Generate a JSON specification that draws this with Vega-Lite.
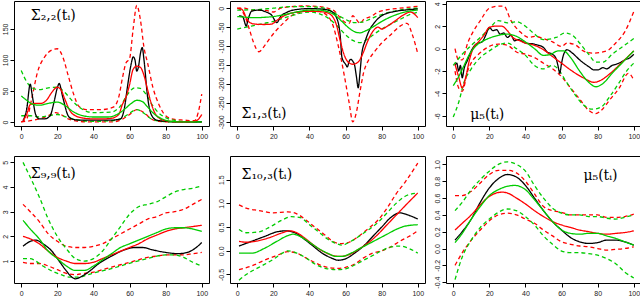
{
  "$schema": "https://vega.github.io/schema/vega-lite/v6.json",
  "padding": {"left": 0, "top": 0, "right": 0, "bottom": 0},
  "spacing": 15,
  "config": {
    "view": {"stroke": "#000", "strokeWidth": 1},
    "axis": {"grid": false, "domain": false, "ticks": true, "tickSize": 4, "tickColor": "#000", "tickWidth": 1, "labelFontSize": 7, "labelFont": "Liberation Sans", "labelColor": "#222", "labelPadding": 2, "labelOverlap": false, "labelFlush": false, "labelBound": false},
    "axisY": {"labelAngle": -90, "labelAlign": "center", "labelBaseline": "bottom"},
    "text": {"font": "DejaVu Serif", "fontSize": 14, "color": "#000", "baseline": "middle", "align": "left"}
  },
  "datasets": {
    "d1": [
      {"s":"ru","t":0,"v":0},{"s":"ru","t":3,"v":5},{"s":"ru","t":6,"v":40},{"s":"ru","t":9,"v":80},{"s":"ru","t":13,"v":105},{"s":"ru","t":17,"v":116},{"s":"ru","t":20,"v":118},{"s":"ru","t":23,"v":105},{"s":"ru","t":26,"v":75},{"s":"ru","t":29,"v":45},{"s":"ru","t":32,"v":25},{"s":"ru","t":36,"v":20},{"s":"ru","t":45,"v":20},{"s":"ru","t":51,"v":24},{"s":"ru","t":54,"v":40},{"s":"ru","t":56,"v":70},{"s":"ru","t":58,"v":95},{"s":"ru","t":60,"v":102},{"s":"ru","t":62,"v":150},{"s":"ru","t":64,"v":188},{"s":"ru","t":66,"v":165},{"s":"ru","t":68,"v":120},{"s":"ru","t":70,"v":95},{"s":"ru","t":73,"v":55},{"s":"ru","t":76,"v":30},{"s":"ru","t":80,"v":10},{"s":"ru","t":85,"v":4},{"s":"ru","t":90,"v":3},{"s":"ru","t":96,"v":2},{"s":"ru","t":98,"v":15},{"s":"ru","t":100,"v":45},
      {"s":"rl","t":0,"v":0},{"s":"rl","t":5,"v":2},{"s":"rl","t":10,"v":5},{"s":"rl","t":15,"v":10},{"s":"rl","t":19,"v":15},{"s":"rl","t":22,"v":12},{"s":"rl","t":26,"v":5},{"s":"rl","t":32,"v":1},{"s":"rl","t":40,"v":0},{"s":"rl","t":50,"v":0},{"s":"rl","t":55,"v":3},{"s":"rl","t":60,"v":12},{"s":"rl","t":64,"v":20},{"s":"rl","t":68,"v":15},{"s":"rl","t":72,"v":5},{"s":"rl","t":76,"v":1},{"s":"rl","t":85,"v":0},{"s":"rl","t":100,"v":0},
      {"s":"gu","t":0,"v":83},{"s":"gu","t":3,"v":65},{"s":"gu","t":6,"v":55},{"s":"gu","t":10,"v":52},{"s":"gu","t":15,"v":55},{"s":"gu","t":20,"v":56},{"s":"gu","t":24,"v":48},{"s":"gu","t":28,"v":35},{"s":"gu","t":33,"v":22},{"s":"gu","t":40,"v":15},{"s":"gu","t":50,"v":16},{"s":"gu","t":55,"v":26},{"s":"gu","t":59,"v":45},{"s":"gu","t":63,"v":55},{"s":"gu","t":66,"v":54},{"s":"gu","t":69,"v":45},{"s":"gu","t":72,"v":30},{"s":"gu","t":76,"v":15},{"s":"gu","t":80,"v":7},{"s":"gu","t":86,"v":2},{"s":"gu","t":92,"v":0},{"s":"gu","t":100,"v":0},
      {"s":"gl","t":0,"v":10},{"s":"gl","t":5,"v":10},{"s":"gl","t":10,"v":8},{"s":"gl","t":15,"v":10},{"s":"gl","t":20,"v":12},{"s":"gl","t":25,"v":8},{"s":"gl","t":30,"v":4},{"s":"gl","t":40,"v":1},{"s":"gl","t":50,"v":2},{"s":"gl","t":55,"v":5},{"s":"gl","t":59,"v":12},{"s":"gl","t":64,"v":20},{"s":"gl","t":68,"v":14},{"s":"gl","t":72,"v":5},{"s":"gl","t":78,"v":1},{"s":"gl","t":85,"v":0},{"s":"gl","t":100,"v":0},
      {"s":"k","t":1,"v":2},{"s":"k","t":3,"v":20},{"s":"k","t":5,"v":61},{"s":"k","t":6,"v":45},{"s":"k","t":8,"v":12},{"s":"k","t":10,"v":5},{"s":"k","t":13,"v":5},{"s":"k","t":16,"v":10},{"s":"k","t":18,"v":30},{"s":"k","t":20,"v":55},{"s":"k","t":21,"v":62},{"s":"k","t":23,"v":40},{"s":"k","t":26,"v":10},{"s":"k","t":28,"v":5},{"s":"k","t":32,"v":3},{"s":"k","t":40,"v":3},{"s":"k","t":50,"v":3},{"s":"k","t":55,"v":5},{"s":"k","t":57,"v":20},{"s":"k","t":59,"v":60},{"s":"k","t":61,"v":95},{"s":"k","t":62,"v":105},{"s":"k","t":63,"v":100},{"s":"k","t":64,"v":82},{"s":"k","t":65,"v":90},{"s":"k","t":66,"v":110},{"s":"k","t":67,"v":120},{"s":"k","t":68,"v":100},{"s":"k","t":70,"v":40},{"s":"k","t":72,"v":12},{"s":"k","t":75,"v":3},{"s":"k","t":80,"v":1},{"s":"k","t":90,"v":0},{"s":"k","t":100,"v":0},
      {"s":"r","t":1,"v":2},{"s":"r","t":3,"v":12},{"s":"r","t":5,"v":28},{"s":"r","t":8,"v":30},{"s":"r","t":11,"v":30},{"s":"r","t":14,"v":35},{"s":"r","t":17,"v":48},{"s":"r","t":20,"v":56},{"s":"r","t":22,"v":52},{"s":"r","t":24,"v":38},{"s":"r","t":27,"v":18},{"s":"r","t":30,"v":10},{"s":"r","t":35,"v":6},{"s":"r","t":40,"v":5},{"s":"r","t":45,"v":5},{"s":"r","t":50,"v":6},{"s":"r","t":54,"v":12},{"s":"r","t":56,"v":28},{"s":"r","t":58,"v":40},{"s":"r","t":60,"v":60},{"s":"r","t":62,"v":85},{"s":"r","t":64,"v":90},{"s":"r","t":66,"v":88},{"s":"r","t":68,"v":75},{"s":"r","t":70,"v":52},{"s":"r","t":72,"v":30},{"s":"r","t":75,"v":10},{"s":"r","t":80,"v":2},{"s":"r","t":90,"v":0},{"s":"r","t":96,"v":1},{"s":"r","t":98,"v":4},{"s":"r","t":100,"v":12},
      {"s":"g","t":0,"v":42},{"s":"g","t":3,"v":35},{"s":"g","t":6,"v":29},{"s":"g","t":10,"v":27},{"s":"g","t":15,"v":30},{"s":"g","t":20,"v":32},{"s":"g","t":24,"v":27},{"s":"g","t":28,"v":18},{"s":"g","t":33,"v":11},{"s":"g","t":40,"v":8},{"s":"g","t":48,"v":8},{"s":"g","t":53,"v":12},{"s":"g","t":57,"v":20},{"s":"g","t":61,"v":30},{"s":"g","t":64,"v":35},{"s":"g","t":67,"v":33},{"s":"g","t":70,"v":24},{"s":"g","t":74,"v":12},{"s":"g","t":78,"v":5},{"s":"g","t":83,"v":1},{"s":"g","t":90,"v":0},{"s":"g","t":100,"v":0}
    ],
    "d2": [
      {"s":"rl","t":0,"v":0},{"s":"rl","t":3,"v":-10},{"s":"rl","t":5,"v":-30},{"s":"rl","t":7,"v":-60},{"s":"rl","t":9,"v":-90},{"s":"rl","t":12,"v":-115},{"s":"rl","t":15,"v":-100},{"s":"rl","t":18,"v":-80},{"s":"rl","t":21,"v":-62},{"s":"rl","t":25,"v":-42},{"s":"rl","t":30,"v":-20},{"s":"rl","t":35,"v":-10},{"s":"rl","t":40,"v":-5},{"s":"rl","t":45,"v":-8},{"s":"rl","t":50,"v":-20},{"s":"rl","t":53,"v":-45},{"s":"rl","t":56,"v":-100},{"s":"rl","t":59,"v":-170},{"s":"rl","t":62,"v":-250},{"s":"rl","t":64,"v":-300},{"s":"rl","t":66,"v":-275},{"s":"rl","t":68,"v":-220},{"s":"rl","t":70,"v":-170},{"s":"rl","t":73,"v":-135},{"s":"rl","t":76,"v":-115},{"s":"rl","t":80,"v":-92},{"s":"rl","t":85,"v":-70},{"s":"rl","t":90,"v":-48},{"s":"rl","t":94,"v":-40},{"s":"rl","t":97,"v":-70},{"s":"rl","t":100,"v":-120},
      {"s":"ru","t":0,"v":0},{"s":"ru","t":4,"v":0},{"s":"ru","t":8,"v":-5},{"s":"ru","t":12,"v":-5},{"s":"ru","t":16,"v":-6},{"s":"ru","t":20,"v":-10},{"s":"ru","t":24,"v":0},{"s":"ru","t":30,"v":4},{"s":"ru","t":36,"v":6},{"s":"ru","t":44,"v":5},{"s":"ru","t":50,"v":0},{"s":"ru","t":54,"v":-8},{"s":"ru","t":57,"v":-25},{"s":"ru","t":60,"v":-38},{"s":"ru","t":62,"v":-40},{"s":"ru","t":64,"v":-20},{"s":"ru","t":66,"v":-30},{"s":"ru","t":68,"v":-40},{"s":"ru","t":70,"v":-30},{"s":"ru","t":74,"v":-22},{"s":"ru","t":78,"v":-10},{"s":"ru","t":82,"v":-5},{"s":"ru","t":90,"v":0},{"s":"ru","t":96,"v":3},{"s":"ru","t":100,"v":5},
      {"s":"gu","t":0,"v":-5},{"s":"gu","t":10,"v":-4},{"s":"gu","t":20,"v":0},{"s":"gu","t":30,"v":4},{"s":"gu","t":40,"v":4},{"s":"gu","t":48,"v":0},{"s":"gu","t":53,"v":-10},{"s":"gu","t":57,"v":-22},{"s":"gu","t":61,"v":-32},{"s":"gu","t":65,"v":-38},{"s":"gu","t":69,"v":-37},{"s":"gu","t":73,"v":-30},{"s":"gu","t":78,"v":-20},{"s":"gu","t":84,"v":-11},{"s":"gu","t":90,"v":-5},{"s":"gu","t":100,"v":0},
      {"s":"gl","t":0,"v":-55},{"s":"gl","t":5,"v":-50},{"s":"gl","t":10,"v":-45},{"s":"gl","t":15,"v":-40},{"s":"gl","t":20,"v":-35},{"s":"gl","t":25,"v":-27},{"s":"gl","t":30,"v":-20},{"s":"gl","t":35,"v":-13},{"s":"gl","t":40,"v":-10},{"s":"gl","t":45,"v":-14},{"s":"gl","t":50,"v":-25},{"s":"gl","t":55,"v":-45},{"s":"gl","t":60,"v":-70},{"s":"gl","t":64,"v":-85},{"s":"gl","t":68,"v":-91},{"s":"gl","t":72,"v":-82},{"s":"gl","t":76,"v":-68},{"s":"gl","t":80,"v":-55},{"s":"gl","t":85,"v":-42},{"s":"gl","t":90,"v":-30},{"s":"gl","t":95,"v":-18},{"s":"gl","t":100,"v":-10},
      {"s":"k","t":1,"v":-20},{"s":"k","t":3,"v":-22},{"s":"k","t":5,"v":-47},{"s":"k","t":6,"v":-30},{"s":"k","t":8,"v":-8},{"s":"k","t":12,"v":-5},{"s":"k","t":16,"v":-10},{"s":"k","t":19,"v":-18},{"s":"k","t":22,"v":-38},{"s":"k","t":24,"v":-22},{"s":"k","t":27,"v":-12},{"s":"k","t":31,"v":-5},{"s":"k","t":40,"v":-1},{"s":"k","t":48,"v":-3},{"s":"k","t":52,"v":-8},{"s":"k","t":55,"v":-25},{"s":"k","t":57,"v":-70},{"s":"k","t":58,"v":-130},{"s":"k","t":60,"v":-148},{"s":"k","t":61,"v":-155},{"s":"k","t":62,"v":-140},{"s":"k","t":63,"v":-135},{"s":"k","t":64,"v":-140},{"s":"k","t":65,"v":-150},{"s":"k","t":66,"v":-180},{"s":"k","t":67,"v":-210},{"s":"k","t":68,"v":-170},{"s":"k","t":69,"v":-120},{"s":"k","t":71,"v":-85},{"s":"k","t":73,"v":-60},{"s":"k","t":76,"v":-38},{"s":"k","t":80,"v":-20},{"s":"k","t":88,"v":-8},{"s":"k","t":95,"v":-4},{"s":"k","t":100,"v":-2},
      {"s":"r","t":1,"v":0},{"s":"r","t":3,"v":-5},{"s":"r","t":5,"v":-25},{"s":"r","t":7,"v":-38},{"s":"r","t":10,"v":-42},{"s":"r","t":15,"v":-43},{"s":"r","t":19,"v":-42},{"s":"r","t":22,"v":-32},{"s":"r","t":26,"v":-20},{"s":"r","t":31,"v":-12},{"s":"r","t":40,"v":-8},{"s":"r","t":48,"v":-10},{"s":"r","t":52,"v":-18},{"s":"r","t":55,"v":-45},{"s":"r","t":57,"v":-85},{"s":"r","t":59,"v":-120},{"s":"r","t":61,"v":-140},{"s":"r","t":64,"v":-148},{"s":"r","t":67,"v":-142},{"s":"r","t":70,"v":-115},{"s":"r","t":72,"v":-90},{"s":"r","t":75,"v":-62},{"s":"r","t":78,"v":-50},{"s":"r","t":80,"v":-55},{"s":"r","t":83,"v":-48},{"s":"r","t":87,"v":-35},{"s":"r","t":92,"v":-18},{"s":"r","t":96,"v":-10},{"s":"r","t":98,"v":-15},{"s":"r","t":100,"v":-25},
      {"s":"g","t":0,"v":-22},{"s":"g","t":5,"v":-24},{"s":"g","t":10,"v":-25},{"s":"g","t":15,"v":-24},{"s":"g","t":20,"v":-22},{"s":"g","t":25,"v":-18},{"s":"g","t":30,"v":-13},{"s":"g","t":35,"v":-8},{"s":"g","t":40,"v":-5},{"s":"g","t":45,"v":-5},{"s":"g","t":50,"v":-9},{"s":"g","t":54,"v":-18},{"s":"g","t":58,"v":-35},{"s":"g","t":62,"v":-53},{"s":"g","t":65,"v":-62},{"s":"g","t":68,"v":-65},{"s":"g","t":71,"v":-60},{"s":"g","t":75,"v":-50},{"s":"g","t":80,"v":-35},{"s":"g","t":85,"v":-23},{"s":"g","t":90,"v":-14},{"s":"g","t":95,"v":-8},{"s":"g","t":100,"v":-5}
    ],
    "d3": [
      {"s":"ru","t":1,"v":0.0},{"s":"ru","t":3,"v":-1.0},{"s":"ru","t":5,"v":-1.0},{"s":"ru","t":8,"v":0.5},{"s":"ru","t":11,"v":1.5},{"s":"ru","t":15,"v":2.5},{"s":"ru","t":20,"v":3.6},{"s":"ru","t":25,"v":3.8},{"s":"ru","t":28,"v":3.8},{"s":"ru","t":32,"v":2.5},{"s":"ru","t":37,"v":1.5},{"s":"ru","t":42,"v":1.0},{"s":"ru","t":45,"v":1.1},{"s":"ru","t":50,"v":0.9},{"s":"ru","t":55,"v":0.6},{"s":"ru","t":60,"v":0.2},{"s":"ru","t":63,"v":0.5},{"s":"ru","t":68,"v":0.3},{"s":"ru","t":72,"v":-0.2},{"s":"ru","t":77,"v":-0.4},{"s":"ru","t":85,"v":-0.2},{"s":"ru","t":90,"v":0.5},{"s":"ru","t":95,"v":1.5},{"s":"ru","t":100,"v":3.3},
      {"s":"rl","t":1,"v":-2.0},{"s":"rl","t":3,"v":-3.5},{"s":"rl","t":5,"v":-3.8},{"s":"rl","t":8,"v":-2.0},{"s":"rl","t":11,"v":-1.0},{"s":"rl","t":14,"v":-0.5},{"s":"rl","t":20,"v":0.2},{"s":"rl","t":25,"v":0.4},{"s":"rl","t":30,"v":0.3},{"s":"rl","t":35,"v":-0.3},{"s":"rl","t":40,"v":-0.5},{"s":"rl","t":45,"v":-0.8},{"s":"rl","t":50,"v":-1.3},{"s":"rl","t":55,"v":-1.8},{"s":"rl","t":60,"v":-2.5},{"s":"rl","t":65,"v":-3.5},{"s":"rl","t":70,"v":-4.5},{"s":"rl","t":75,"v":-5.5},{"s":"rl","t":79,"v":-5.8},{"s":"rl","t":82,"v":-5.5},{"s":"rl","t":87,"v":-4.5},{"s":"rl","t":92,"v":-3.5},{"s":"rl","t":97,"v":-2.2},{"s":"rl","t":100,"v":-2.8},
      {"s":"gu","t":0,"v":-1.5},{"s":"gu","t":5,"v":-0.5},{"s":"gu","t":10,"v":0.3},{"s":"gu","t":15,"v":1.0},{"s":"gu","t":20,"v":1.8},{"s":"gu","t":25,"v":2.5},{"s":"gu","t":30,"v":2.3},{"s":"gu","t":35,"v":2.4},{"s":"gu","t":40,"v":2.0},{"s":"gu","t":45,"v":1.3},{"s":"gu","t":50,"v":0.8},{"s":"gu","t":57,"v":1.0},{"s":"gu","t":62,"v":1.4},{"s":"gu","t":66,"v":1.2},{"s":"gu","t":70,"v":0.5},{"s":"gu","t":75,"v":-0.5},{"s":"gu","t":79,"v":-1.2},{"s":"gu","t":83,"v":-1.2},{"s":"gu","t":88,"v":-0.5},{"s":"gu","t":94,"v":0.2},{"s":"gu","t":100,"v":0.9},
      {"s":"gl","t":0,"v":-6.1},{"s":"gl","t":3,"v":-4.8},{"s":"gl","t":6,"v":-3.0},{"s":"gl","t":10,"v":-1.8},{"s":"gl","t":15,"v":-0.8},{"s":"gl","t":20,"v":-0.2},{"s":"gl","t":25,"v":0.3},{"s":"gl","t":30,"v":0.5},{"s":"gl","t":35,"v":0.0},{"s":"gl","t":40,"v":-0.6},{"s":"gl","t":45,"v":-1.5},{"s":"gl","t":50,"v":-1.8},{"s":"gl","t":55,"v":-1.5},{"s":"gl","t":58,"v":-1.8},{"s":"gl","t":62,"v":-2.8},{"s":"gl","t":67,"v":-4.0},{"s":"gl","t":72,"v":-5.0},{"s":"gl","t":77,"v":-5.4},{"s":"gl","t":82,"v":-5.2},{"s":"gl","t":87,"v":-4.2},{"s":"gl","t":92,"v":-3.0},{"s":"gl","t":96,"v":-2.0},{"s":"gl","t":100,"v":-1.3},
      {"s":"k","t":1,"v":-1.5},{"s":"k","t":2,"v":-1.3},{"s":"k","t":3,"v":-2.0},{"s":"k","t":4,"v":-1.5},{"s":"k","t":5,"v":-2.6},{"s":"k","t":6,"v":-1.8},{"s":"k","t":8,"v":-1.0},{"s":"k","t":10,"v":-0.2},{"s":"k","t":12,"v":0.3},{"s":"k","t":14,"v":0.5},{"s":"k","t":16,"v":0.6},{"s":"k","t":18,"v":1.2},{"s":"k","t":20,"v":1.9},{"s":"k","t":22,"v":1.6},{"s":"k","t":24,"v":1.7},{"s":"k","t":26,"v":1.3},{"s":"k","t":28,"v":1.4},{"s":"k","t":30,"v":1.0},{"s":"k","t":32,"v":1.2},{"s":"k","t":34,"v":0.7},{"s":"k","t":36,"v":0.8},{"s":"k","t":40,"v":0.5},{"s":"k","t":45,"v":0.4},{"s":"k","t":50,"v":0.1},{"s":"k","t":52,"v":-0.3},{"s":"k","t":55,"v":-0.5},{"s":"k","t":57,"v":-0.9},{"s":"k","t":58,"v":-1.5},{"s":"k","t":59,"v":-2.2},{"s":"k","t":60,"v":-1.3},{"s":"k","t":61,"v":-0.6},{"s":"k","t":63,"v":-0.1},{"s":"k","t":66,"v":-0.4},{"s":"k","t":70,"v":-1.0},{"s":"k","t":75,"v":-1.6},{"s":"k","t":78,"v":-1.9},{"s":"k","t":80,"v":-1.9},{"s":"k","t":83,"v":-1.7},{"s":"k","t":85,"v":-1.8},{"s":"k","t":88,"v":-1.5},{"s":"k","t":90,"v":-1.4},{"s":"k","t":93,"v":-1.2},{"s":"k","t":95,"v":-1.0},{"s":"k","t":98,"v":-0.8},{"s":"k","t":100,"v":-0.5},
      {"s":"r","t":1,"v":-1.4},{"s":"r","t":3,"v":-2.5},{"s":"r","t":5,"v":-3.5},{"s":"r","t":7,"v":-2.5},{"s":"r","t":9,"v":-1.0},{"s":"r","t":11,"v":0.0},{"s":"r","t":14,"v":0.6},{"s":"r","t":17,"v":1.2},{"s":"r","t":20,"v":1.9},{"s":"r","t":23,"v":2.0},{"s":"r","t":27,"v":2.0},{"s":"r","t":30,"v":1.6},{"s":"r","t":33,"v":1.0},{"s":"r","t":37,"v":0.7},{"s":"r","t":40,"v":0.5},{"s":"r","t":45,"v":0.3},{"s":"r","t":50,"v":-0.1},{"s":"r","t":55,"v":-0.7},{"s":"r","t":60,"v":-1.3},{"s":"r","t":65,"v":-1.9},{"s":"r","t":72,"v":-2.6},{"s":"r","t":78,"v":-3.0},{"s":"r","t":82,"v":-2.8},{"s":"r","t":87,"v":-2.2},{"s":"r","t":93,"v":-1.3},{"s":"r","t":100,"v":-0.2},
      {"s":"g","t":0,"v":-3.3},{"s":"g","t":3,"v":-2.5},{"s":"g","t":6,"v":-1.5},{"s":"g","t":9,"v":-0.5},{"s":"g","t":13,"v":0.3},{"s":"g","t":18,"v":0.8},{"s":"g","t":23,"v":1.1},{"s":"g","t":30,"v":1.3},{"s":"g","t":35,"v":1.1},{"s":"g","t":40,"v":0.6},{"s":"g","t":45,"v":0.0},{"s":"g","t":50,"v":-0.6},{"s":"g","t":54,"v":-0.5},{"s":"g","t":58,"v":-0.2},{"s":"g","t":61,"v":-0.2},{"s":"g","t":65,"v":-0.8},{"s":"g","t":70,"v":-2.0},{"s":"g","t":75,"v":-3.0},{"s":"g","t":79,"v":-3.4},{"s":"g","t":83,"v":-3.1},{"s":"g","t":88,"v":-2.2},{"s":"g","t":94,"v":-1.2},{"s":"g","t":100,"v":-0.2}
    ],
    "d4": [
      {"s":"ru","t":1,"v":3.3},{"s":"ru","t":5,"v":3.0},{"s":"ru","t":10,"v":2.6},{"s":"ru","t":15,"v":2.1},{"s":"ru","t":20,"v":1.8},{"s":"ru","t":25,"v":1.6},{"s":"ru","t":30,"v":1.55},{"s":"ru","t":35,"v":1.55},{"s":"ru","t":40,"v":1.6},{"s":"ru","t":45,"v":1.7},{"s":"ru","t":50,"v":1.9},{"s":"ru","t":55,"v":2.1},{"s":"ru","t":60,"v":2.3},{"s":"ru","t":65,"v":2.5},{"s":"ru","t":70,"v":2.7},{"s":"ru","t":75,"v":2.8},{"s":"ru","t":80,"v":2.95},{"s":"ru","t":85,"v":3.0},{"s":"ru","t":90,"v":3.1},{"s":"ru","t":95,"v":3.3},{"s":"ru","t":100,"v":3.5},
      {"s":"rl","t":1,"v":0.95},{"s":"rl","t":5,"v":0.9},{"s":"rl","t":10,"v":0.9},{"s":"rl","t":15,"v":0.8},{"s":"rl","t":20,"v":0.65},{"s":"rl","t":25,"v":0.5},{"s":"rl","t":30,"v":0.45},{"s":"rl","t":35,"v":0.5},{"s":"rl","t":40,"v":0.55},{"s":"rl","t":45,"v":0.65},{"s":"rl","t":50,"v":0.75},{"s":"rl","t":55,"v":0.85},{"s":"rl","t":60,"v":0.95},{"s":"rl","t":65,"v":1.05},{"s":"rl","t":70,"v":1.15},{"s":"rl","t":75,"v":1.2},{"s":"rl","t":80,"v":1.25},{"s":"rl","t":85,"v":1.25},{"s":"rl","t":90,"v":1.25},{"s":"rl","t":95,"v":1.3},{"s":"rl","t":100,"v":1.35},
      {"s":"gu","t":1,"v":5.0},{"s":"gu","t":5,"v":4.4},{"s":"gu","t":10,"v":3.6},{"s":"gu","t":15,"v":2.7},{"s":"gu","t":20,"v":2.0},{"s":"gu","t":25,"v":1.5},{"s":"gu","t":30,"v":1.1},{"s":"gu","t":35,"v":1.0},{"s":"gu","t":40,"v":1.1},{"s":"gu","t":45,"v":1.4},{"s":"gu","t":50,"v":1.9},{"s":"gu","t":55,"v":2.4},{"s":"gu","t":60,"v":2.9},{"s":"gu","t":65,"v":3.2},{"s":"gu","t":70,"v":3.3},{"s":"gu","t":75,"v":3.4},{"s":"gu","t":80,"v":3.6},{"s":"gu","t":85,"v":3.8},{"s":"gu","t":90,"v":3.9},{"s":"gu","t":95,"v":3.95},{"s":"gu","t":100,"v":4.05},
      {"s":"gl","t":1,"v":1.1},{"s":"gl","t":5,"v":1.1},{"s":"gl","t":8,"v":1.0},{"s":"gl","t":12,"v":0.8},{"s":"gl","t":17,"v":0.6},{"s":"gl","t":22,"v":0.45},{"s":"gl","t":27,"v":0.35},{"s":"gl","t":32,"v":0.35},{"s":"gl","t":37,"v":0.45},{"s":"gl","t":42,"v":0.55},{"s":"gl","t":48,"v":0.65},{"s":"gl","t":55,"v":0.8},{"s":"gl","t":62,"v":0.95},{"s":"gl","t":70,"v":1.1},{"s":"gl","t":75,"v":1.2},{"s":"gl","t":80,"v":1.25},{"s":"gl","t":85,"v":1.25},{"s":"gl","t":90,"v":1.15},{"s":"gl","t":95,"v":0.95},{"s":"gl","t":100,"v":0.8},
      {"s":"k","t":1,"v":1.6},{"s":"k","t":5,"v":1.8},{"s":"k","t":8,"v":1.85},{"s":"k","t":12,"v":1.7},{"s":"k","t":17,"v":1.4},{"s":"k","t":21,"v":1.0},{"s":"k","t":25,"v":0.6},{"s":"k","t":28,"v":0.35},{"s":"k","t":30,"v":0.28},{"s":"k","t":34,"v":0.4},{"s":"k","t":38,"v":0.6},{"s":"k","t":43,"v":0.9},{"s":"k","t":50,"v":1.2},{"s":"k","t":57,"v":1.45},{"s":"k","t":63,"v":1.55},{"s":"k","t":67,"v":1.55},{"s":"k","t":73,"v":1.45},{"s":"k","t":80,"v":1.35},{"s":"k","t":87,"v":1.3},{"s":"k","t":92,"v":1.35},{"s":"k","t":96,"v":1.5},{"s":"k","t":100,"v":1.75},
      {"s":"r","t":1,"v":2.0},{"s":"r","t":5,"v":1.9},{"s":"r","t":10,"v":1.7},{"s":"r","t":15,"v":1.4},{"s":"r","t":20,"v":1.15},{"s":"r","t":25,"v":1.0},{"s":"r","t":30,"v":0.9},{"s":"r","t":35,"v":0.9},{"s":"r","t":40,"v":0.95},{"s":"r","t":45,"v":1.1},{"s":"r","t":50,"v":1.25},{"s":"r","t":55,"v":1.4},{"s":"r","t":60,"v":1.55},{"s":"r","t":65,"v":1.7},{"s":"r","t":70,"v":1.9},{"s":"r","t":75,"v":2.05},{"s":"r","t":80,"v":2.2},{"s":"r","t":85,"v":2.3},{"s":"r","t":90,"v":2.35},{"s":"r","t":95,"v":2.4},{"s":"r","t":100,"v":2.45},
      {"s":"g","t":1,"v":2.65},{"s":"g","t":5,"v":2.3},{"s":"g","t":10,"v":1.9},{"s":"g","t":15,"v":1.4},{"s":"g","t":20,"v":1.1},{"s":"g","t":25,"v":0.8},{"s":"g","t":30,"v":0.62},{"s":"g","t":35,"v":0.62},{"s":"g","t":40,"v":0.8},{"s":"g","t":45,"v":1.05},{"s":"g","t":50,"v":1.3},{"s":"g","t":55,"v":1.55},{"s":"g","t":60,"v":1.7},{"s":"g","t":65,"v":1.85},{"s":"g","t":70,"v":2.0},{"s":"g","t":75,"v":2.15},{"s":"g","t":80,"v":2.3},{"s":"g","t":85,"v":2.35},{"s":"g","t":90,"v":2.35},{"s":"g","t":95,"v":2.3},{"s":"g","t":100,"v":2.2}
    ],
    "d5": [
      {"s":"ru","t":1,"v":0.97},{"s":"ru","t":5,"v":0.9},{"s":"ru","t":12,"v":0.85},{"s":"ru","t":20,"v":0.8},{"s":"ru","t":28,"v":0.82},{"s":"ru","t":33,"v":0.78},{"s":"ru","t":38,"v":0.65},{"s":"ru","t":43,"v":0.5},{"s":"ru","t":48,"v":0.35},{"s":"ru","t":53,"v":0.2},{"s":"ru","t":57,"v":0.15},{"s":"ru","t":62,"v":0.18},{"s":"ru","t":67,"v":0.3},{"s":"ru","t":72,"v":0.45},{"s":"ru","t":78,"v":0.65},{"s":"ru","t":83,"v":0.9},{"s":"ru","t":88,"v":1.2},{"s":"ru","t":93,"v":1.45},{"s":"ru","t":100,"v":1.85},
      {"s":"rl","t":1,"v":-0.4},{"s":"rl","t":8,"v":-0.32},{"s":"rl","t":15,"v":-0.2},{"s":"rl","t":22,"v":-0.1},{"s":"rl","t":28,"v":-0.02},{"s":"rl","t":33,"v":-0.05},{"s":"rl","t":38,"v":-0.15},{"s":"rl","t":43,"v":-0.25},{"s":"rl","t":48,"v":-0.33},{"s":"rl","t":55,"v":-0.37},{"s":"rl","t":60,"v":-0.35},{"s":"rl","t":65,"v":-0.28},{"s":"rl","t":70,"v":-0.15},{"s":"rl","t":75,"v":-0.05},{"s":"rl","t":80,"v":0.0},{"s":"rl","t":85,"v":0.08},{"s":"rl","t":90,"v":0.2},{"s":"rl","t":95,"v":0.3},{"s":"rl","t":100,"v":0.42},
      {"s":"gu","t":1,"v":0.45},{"s":"gu","t":5,"v":0.38},{"s":"gu","t":12,"v":0.4},{"s":"gu","t":18,"v":0.5},{"s":"gu","t":25,"v":0.65},{"s":"gu","t":30,"v":0.72},{"s":"gu","t":35,"v":0.7},{"s":"gu","t":40,"v":0.55},{"s":"gu","t":45,"v":0.4},{"s":"gu","t":50,"v":0.25},{"s":"gu","t":55,"v":0.15},{"s":"gu","t":58,"v":0.12},{"s":"gu","t":63,"v":0.2},{"s":"gu","t":68,"v":0.32},{"s":"gu","t":73,"v":0.45},{"s":"gu","t":78,"v":0.6},{"s":"gu","t":83,"v":0.8},{"s":"gu","t":88,"v":1.0},{"s":"gu","t":93,"v":1.15},{"s":"gu","t":100,"v":1.22},
      {"s":"gl","t":1,"v":-0.62},{"s":"gl","t":5,"v":-0.5},{"s":"gl","t":12,"v":-0.35},{"s":"gl","t":20,"v":-0.18},{"s":"gl","t":25,"v":-0.05},{"s":"gl","t":28,"v":0.0},{"s":"gl","t":33,"v":-0.05},{"s":"gl","t":38,"v":-0.15},{"s":"gl","t":43,"v":-0.28},{"s":"gl","t":50,"v":-0.38},{"s":"gl","t":55,"v":-0.4},{"s":"gl","t":60,"v":-0.38},{"s":"gl","t":65,"v":-0.3},{"s":"gl","t":70,"v":-0.2},{"s":"gl","t":75,"v":-0.1},{"s":"gl","t":80,"v":0.0},{"s":"gl","t":85,"v":0.08},{"s":"gl","t":90,"v":0.1},{"s":"gl","t":95,"v":0.05},{"s":"gl","t":100,"v":-0.05},
      {"s":"k","t":1,"v":0.1},{"s":"k","t":8,"v":0.2},{"s":"k","t":15,"v":0.3},{"s":"k","t":22,"v":0.4},{"s":"k","t":27,"v":0.42},{"s":"k","t":32,"v":0.38},{"s":"k","t":37,"v":0.25},{"s":"k","t":42,"v":0.1},{"s":"k","t":47,"v":-0.05},{"s":"k","t":52,"v":-0.15},{"s":"k","t":56,"v":-0.2},{"s":"k","t":60,"v":-0.17},{"s":"k","t":65,"v":-0.05},{"s":"k","t":70,"v":0.1},{"s":"k","t":75,"v":0.3},{"s":"k","t":80,"v":0.5},{"s":"k","t":85,"v":0.7},{"s":"k","t":90,"v":0.8},{"s":"k","t":95,"v":0.75},{"s":"k","t":100,"v":0.67},
      {"s":"r","t":1,"v":0.2},{"s":"r","t":5,"v":0.18},{"s":"r","t":10,"v":0.2},{"s":"r","t":18,"v":0.28},{"s":"r","t":25,"v":0.38},{"s":"r","t":29,"v":0.42},{"s":"r","t":33,"v":0.38},{"s":"r","t":38,"v":0.25},{"s":"r","t":43,"v":0.1},{"s":"r","t":48,"v":-0.02},{"s":"r","t":53,"v":-0.1},{"s":"r","t":57,"v":-0.12},{"s":"r","t":62,"v":-0.08},{"s":"r","t":68,"v":0.05},{"s":"r","t":73,"v":0.18},{"s":"r","t":78,"v":0.35},{"s":"r","t":83,"v":0.55},{"s":"r","t":88,"v":0.75},{"s":"r","t":93,"v":0.95},{"s":"r","t":100,"v":1.22},
      {"s":"g","t":1,"v":-0.05},{"s":"g","t":8,"v":-0.05},{"s":"g","t":15,"v":0.05},{"s":"g","t":22,"v":0.2},{"s":"g","t":28,"v":0.32},{"s":"g","t":31,"v":0.35},{"s":"g","t":35,"v":0.3},{"s":"g","t":40,"v":0.18},{"s":"g","t":45,"v":0.05},{"s":"g","t":50,"v":-0.05},{"s":"g","t":55,"v":-0.12},{"s":"g","t":58,"v":-0.12},{"s":"g","t":63,"v":-0.05},{"s":"g","t":68,"v":0.05},{"s":"g","t":73,"v":0.15},{"s":"g","t":78,"v":0.25},{"s":"g","t":83,"v":0.35},{"s":"g","t":88,"v":0.45},{"s":"g","t":93,"v":0.52},{"s":"g","t":100,"v":0.55}
    ],
    "d6": [
      {"s":"ru","t":1,"v":0.63},{"s":"ru","t":5,"v":0.63},{"s":"ru","t":10,"v":0.68},{"s":"ru","t":15,"v":0.78},{"s":"ru","t":20,"v":0.88},{"s":"ru","t":25,"v":0.93},{"s":"ru","t":30,"v":0.93},{"s":"ru","t":35,"v":0.9},{"s":"ru","t":40,"v":0.8},{"s":"ru","t":45,"v":0.65},{"s":"ru","t":50,"v":0.5},{"s":"ru","t":55,"v":0.45},{"s":"ru","t":60,"v":0.43},{"s":"ru","t":65,"v":0.4},{"s":"ru","t":70,"v":0.4},{"s":"ru","t":75,"v":0.4},{"s":"ru","t":80,"v":0.4},{"s":"ru","t":85,"v":0.37},{"s":"ru","t":90,"v":0.37},{"s":"ru","t":95,"v":0.38},{"s":"ru","t":100,"v":0.41},
      {"s":"rl","t":1,"v":-0.2},{"s":"rl","t":5,"v":-0.05},{"s":"rl","t":10,"v":0.1},{"s":"rl","t":15,"v":0.22},{"s":"rl","t":20,"v":0.33},{"s":"rl","t":25,"v":0.4},{"s":"rl","t":30,"v":0.42},{"s":"rl","t":35,"v":0.4},{"s":"rl","t":40,"v":0.35},{"s":"rl","t":45,"v":0.3},{"s":"rl","t":50,"v":0.22},{"s":"rl","t":55,"v":0.15},{"s":"rl","t":60,"v":0.08},{"s":"rl","t":65,"v":0.05},{"s":"rl","t":70,"v":0.03},{"s":"rl","t":75,"v":0.02},{"s":"rl","t":80,"v":0.0},{"s":"rl","t":85,"v":-0.02},{"s":"rl","t":90,"v":-0.01},{"s":"rl","t":95,"v":0.0},{"s":"rl","t":100,"v":0.02},
      {"s":"gu","t":1,"v":0.45},{"s":"gu","t":5,"v":0.55},{"s":"gu","t":10,"v":0.7},{"s":"gu","t":15,"v":0.82},{"s":"gu","t":20,"v":0.92},{"s":"gu","t":25,"v":1.0},{"s":"gu","t":30,"v":1.03},{"s":"gu","t":35,"v":1.0},{"s":"gu","t":40,"v":0.92},{"s":"gu","t":45,"v":0.75},{"s":"gu","t":50,"v":0.6},{"s":"gu","t":55,"v":0.48},{"s":"gu","t":60,"v":0.42},{"s":"gu","t":65,"v":0.4},{"s":"gu","t":70,"v":0.4},{"s":"gu","t":75,"v":0.38},{"s":"gu","t":80,"v":0.38},{"s":"gu","t":85,"v":0.36},{"s":"gu","t":90,"v":0.35},{"s":"gu","t":95,"v":0.37},{"s":"gu","t":100,"v":0.4},
      {"s":"gl","t":1,"v":-0.37},{"s":"gl","t":5,"v":-0.1},{"s":"gl","t":10,"v":0.1},{"s":"gl","t":15,"v":0.25},{"s":"gl","t":20,"v":0.35},{"s":"gl","t":25,"v":0.43},{"s":"gl","t":30,"v":0.47},{"s":"gl","t":35,"v":0.45},{"s":"gl","t":40,"v":0.38},{"s":"gl","t":45,"v":0.28},{"s":"gl","t":50,"v":0.15},{"s":"gl","t":55,"v":0.05},{"s":"gl","t":60,"v":-0.03},{"s":"gl","t":65,"v":-0.05},{"s":"gl","t":70,"v":-0.05},{"s":"gl","t":75,"v":-0.06},{"s":"gl","t":80,"v":-0.08},{"s":"gl","t":85,"v":-0.12},{"s":"gl","t":90,"v":-0.18},{"s":"gl","t":95,"v":-0.28},{"s":"gl","t":100,"v":-0.35},
      {"s":"k","t":1,"v":0.1},{"s":"k","t":5,"v":0.2},{"s":"k","t":10,"v":0.35},{"s":"k","t":15,"v":0.55},{"s":"k","t":20,"v":0.72},{"s":"k","t":25,"v":0.83},{"s":"k","t":30,"v":0.88},{"s":"k","t":35,"v":0.85},{"s":"k","t":40,"v":0.75},{"s":"k","t":45,"v":0.6},{"s":"k","t":50,"v":0.45},{"s":"k","t":55,"v":0.32},{"s":"k","t":60,"v":0.22},{"s":"k","t":65,"v":0.13},{"s":"k","t":70,"v":0.08},{"s":"k","t":75,"v":0.06},{"s":"k","t":80,"v":0.07},{"s":"k","t":85,"v":0.1},{"s":"k","t":90,"v":0.1},{"s":"k","t":95,"v":0.08},{"s":"k","t":100,"v":0.04},
      {"s":"r","t":1,"v":0.22},{"s":"r","t":5,"v":0.3},{"s":"r","t":10,"v":0.4},{"s":"r","t":15,"v":0.52},{"s":"r","t":20,"v":0.62},{"s":"r","t":27,"v":0.67},{"s":"r","t":30,"v":0.66},{"s":"r","t":35,"v":0.6},{"s":"r","t":40,"v":0.53},{"s":"r","t":45,"v":0.45},{"s":"r","t":50,"v":0.38},{"s":"r","t":55,"v":0.32},{"s":"r","t":60,"v":0.28},{"s":"r","t":65,"v":0.25},{"s":"r","t":70,"v":0.22},{"s":"r","t":75,"v":0.2},{"s":"r","t":80,"v":0.18},{"s":"r","t":85,"v":0.17},{"s":"r","t":90,"v":0.18},{"s":"r","t":95,"v":0.19},{"s":"r","t":100,"v":0.21},
      {"s":"g","t":1,"v":0.07},{"s":"g","t":5,"v":0.18},{"s":"g","t":10,"v":0.35},{"s":"g","t":15,"v":0.5},{"s":"g","t":20,"v":0.63},{"s":"g","t":25,"v":0.7},{"s":"g","t":30,"v":0.74},{"s":"g","t":34,"v":0.75},{"s":"g","t":40,"v":0.7},{"s":"g","t":45,"v":0.58},{"s":"g","t":50,"v":0.45},{"s":"g","t":55,"v":0.32},{"s":"g","t":60,"v":0.22},{"s":"g","t":65,"v":0.18},{"s":"g","t":70,"v":0.17},{"s":"g","t":75,"v":0.18},{"s":"g","t":80,"v":0.18},{"s":"g","t":85,"v":0.15},{"s":"g","t":90,"v":0.12},{"s":"g","t":95,"v":0.08},{"s":"g","t":100,"v":0.04}
    ]
  },
  "vconcat": [
    {
      "spacing": 6,
      "hconcat": [
        {
          "width": 195, "height": 125,
          "encoding": {
            "x": {"type": "quantitative", "scale": {"domain": [-4, 104], "nice": false, "zero": false}, "axis": {"title": null, "values": [0, 20, 40, 60, 80, 100], "labelOverlap": false, "labelBound": false}},
            "y": {"type": "quantitative", "scale": {"domain": [-6.5, 195], "nice": false, "zero": false}, "axis": {"title": null, "values": [0, 50, 100, 150], "labelOverlap": false, "labelBound": false}}
          },
          "layer": [
            {
              "data": {"name": "d1"},
              "mark": {"type": "line", "interpolate": "monotone", "clip": true},
              "encoding": {
                "x": {"field": "t", "type": "quantitative"},
                "y": {"field": "v", "type": "quantitative"},
                "color": {"field": "s", "type": "nominal", "scale": {"domain": ["ru", "rl", "gu", "gl", "k", "r", "g"], "range": ["#ff0000", "#ff0000", "#00cc00", "#00cc00", "#000000", "#ff0000", "#00cc00"]}, "legend": null},
                "strokeDash": {"field": "s", "type": "nominal", "scale": {"domain": ["ru", "rl", "gu", "gl", "k", "r", "g"], "range": [[4, 3], [4, 3], [4, 3], [4, 3], [1, 0], [1, 0], [1, 0]]}, "legend": null},
                "strokeWidth": {"field": "s", "type": "ordinal", "scale": {"domain": ["ru", "rl", "gu", "gl", "k", "r", "g"], "range": [1.3, 1.3, 1.3, 1.3, 2.5, 2.5, 2.5]}, "legend": null}
              }
            },
            {
              "data": {"values": [{}]},
              "mark": {"type": "text"},
              "encoding": {"x": {"datum": 5.3}, "y": {"datum": 171}, "text": {"value": "Σ₂,₂(tᵢ)"}}
            }
          ]
        },
        {
          "width": 195, "height": 125,
          "encoding": {
            "x": {"type": "quantitative", "scale": {"domain": [-4, 104], "nice": false, "zero": false}, "axis": {"title": null, "values": [0, 20, 40, 60, 80, 100], "labelOverlap": false, "labelBound": false}},
            "y": {"type": "quantitative", "scale": {"domain": [-311, 19], "nice": false, "zero": false}, "axis": {"title": null, "values": [0, -50, -100, -150, -200, -250, -300], "labelOverlap": false, "labelBound": false, "labelExpr": "replace(datum.label, '−', '-')"}}
          },
          "layer": [
            {
              "data": {"name": "d2"},
              "mark": {"type": "line", "interpolate": "monotone", "clip": true},
              "encoding": {
                "x": {"field": "t", "type": "quantitative"},
                "y": {"field": "v", "type": "quantitative"},
                "color": {"field": "s", "type": "nominal", "scale": {"domain": ["ru", "rl", "gu", "gl", "k", "r", "g"], "range": ["#ff0000", "#ff0000", "#00cc00", "#00cc00", "#000000", "#ff0000", "#00cc00"]}, "legend": null},
                "strokeDash": {"field": "s", "type": "nominal", "scale": {"domain": ["ru", "rl", "gu", "gl", "k", "r", "g"], "range": [[4, 3], [4, 3], [4, 3], [4, 3], [1, 0], [1, 0], [1, 0]]}, "legend": null},
                "strokeWidth": {"field": "s", "type": "ordinal", "scale": {"domain": ["ru", "rl", "gu", "gl", "k", "r", "g"], "range": [1.3, 1.3, 1.3, 1.3, 2.5, 2.5, 2.5]}, "legend": null}
              }
            },
            {
              "data": {"values": [{}]},
              "mark": {"type": "text"},
              "encoding": {"x": {"datum": 2.4}, "y": {"datum": -279}, "text": {"value": "Σ₁,₃(tᵢ)"}}
            }
          ]
        },
        {
          "width": 195, "height": 125,
          "encoding": {
            "x": {"type": "quantitative", "scale": {"domain": [-4, 104], "nice": false, "zero": false}, "axis": {"title": null, "values": [0, 20, 40, 60, 80, 100], "labelOverlap": false, "labelBound": false}},
            "y": {"type": "quantitative", "scale": {"domain": [-6.9, 4.25], "nice": false, "zero": false}, "axis": {"title": null, "values": [-6, -4, -2, 0, 2, 4], "labelOverlap": false, "labelBound": false, "labelExpr": "replace(datum.label, '−', '-')"}}
          },
          "layer": [
            {
              "data": {"name": "d3"},
              "mark": {"type": "line", "interpolate": "monotone", "clip": true},
              "encoding": {
                "x": {"field": "t", "type": "quantitative"},
                "y": {"field": "v", "type": "quantitative"},
                "color": {"field": "s", "type": "nominal", "scale": {"domain": ["ru", "rl", "gu", "gl", "k", "r", "g"], "range": ["#ff0000", "#ff0000", "#00cc00", "#00cc00", "#000000", "#ff0000", "#00cc00"]}, "legend": null},
                "strokeDash": {"field": "s", "type": "nominal", "scale": {"domain": ["ru", "rl", "gu", "gl", "k", "r", "g"], "range": [[4, 3], [4, 3], [4, 3], [4, 3], [1, 0], [1, 0], [1, 0]]}, "legend": null},
                "strokeWidth": {"field": "s", "type": "ordinal", "scale": {"domain": ["ru", "rl", "gu", "gl", "k", "r", "g"], "range": [1.3, 1.3, 1.3, 1.3, 2.5, 2.5, 2.5]}, "legend": null}
              }
            },
            {
              "data": {"values": [{}]},
              "mark": {"type": "text"},
              "encoding": {"x": {"datum": 9.4}, "y": {"datum": -5.92}, "text": {"value": "μ₅(tᵢ)"}}
            }
          ]
        }
      ]
    },
    {
      "spacing": 6,
      "hconcat": [
        {
          "width": 195, "height": 127,
          "encoding": {
            "x": {"type": "quantitative", "scale": {"domain": [-4, 104], "nice": false, "zero": false}, "axis": {"title": null, "values": [0, 20, 40, 60, 80, 100], "labelOverlap": false, "labelBound": false}},
            "y": {"type": "quantitative", "scale": {"domain": [0.11, 5.26], "nice": false, "zero": false}, "axis": {"title": null, "values": [1, 2, 3, 4, 5], "labelOverlap": false, "labelBound": false}}
          },
          "layer": [
            {
              "data": {"name": "d4"},
              "mark": {"type": "line", "interpolate": "monotone", "clip": true},
              "encoding": {
                "x": {"field": "t", "type": "quantitative"},
                "y": {"field": "v", "type": "quantitative"},
                "color": {"field": "s", "type": "nominal", "scale": {"domain": ["ru", "rl", "gu", "gl", "k", "r", "g"], "range": ["#ff0000", "#ff0000", "#00cc00", "#00cc00", "#000000", "#ff0000", "#00cc00"]}, "legend": null},
                "strokeDash": {"field": "s", "type": "nominal", "scale": {"domain": ["ru", "rl", "gu", "gl", "k", "r", "g"], "range": [[4, 3], [4, 3], [4, 3], [4, 3], [1, 0], [1, 0], [1, 0]]}, "legend": null},
                "strokeWidth": {"field": "s", "type": "ordinal", "scale": {"domain": ["ru", "rl", "gu", "gl", "k", "r", "g"], "range": [1.3, 1.3, 1.3, 1.3, 2.5, 2.5, 2.5]}, "legend": null}
              }
            },
            {
              "data": {"values": [{}]},
              "mark": {"type": "text"},
              "encoding": {"x": {"datum": 5.3}, "y": {"datum": 4.53}, "text": {"value": "Σ₉,₉(tᵢ)"}}
            }
          ]
        },
        {
          "width": 195, "height": 127,
          "encoding": {
            "x": {"type": "quantitative", "scale": {"domain": [-4, 104], "nice": false, "zero": false}, "axis": {"title": null, "values": [0, 20, 40, 60, 80, 100], "labelOverlap": false, "labelBound": false}},
            "y": {"type": "quantitative", "scale": {"domain": [-0.68, 2.0], "nice": false, "zero": false}, "axis": {"title": null, "values": [-0.5, 0, 0.5, 1, 1.5], "format": ".1f", "labelOverlap": false, "labelBound": false, "labelExpr": "replace(datum.label, '−', '-')"}}
          },
          "layer": [
            {
              "data": {"name": "d5"},
              "mark": {"type": "line", "interpolate": "monotone", "clip": true},
              "encoding": {
                "x": {"field": "t", "type": "quantitative"},
                "y": {"field": "v", "type": "quantitative"},
                "color": {"field": "s", "type": "nominal", "scale": {"domain": ["ru", "rl", "gu", "gl", "k", "r", "g"], "range": ["#ff0000", "#ff0000", "#00cc00", "#00cc00", "#000000", "#ff0000", "#00cc00"]}, "legend": null},
                "strokeDash": {"field": "s", "type": "nominal", "scale": {"domain": ["ru", "rl", "gu", "gl", "k", "r", "g"], "range": [[4, 3], [4, 3], [4, 3], [4, 3], [1, 0], [1, 0], [1, 0]]}, "legend": null},
                "strokeWidth": {"field": "s", "type": "ordinal", "scale": {"domain": ["ru", "rl", "gu", "gl", "k", "r", "g"], "range": [1.3, 1.3, 1.3, 1.3, 2.5, 2.5, 2.5]}, "legend": null}
              }
            },
            {
              "data": {"values": [{}]},
              "mark": {"type": "text"},
              "encoding": {"x": {"datum": 2.4}, "y": {"datum": 1.6}, "text": {"value": "Σ₁₀,₃(tᵢ)"}}
            }
          ]
        },
        {
          "width": 195, "height": 127,
          "encoding": {
            "x": {"type": "quantitative", "scale": {"domain": [-4, 104], "nice": false, "zero": false}, "axis": {"title": null, "values": [0, 20, 40, 60, 80, 100], "labelOverlap": false, "labelBound": false}},
            "y": {"type": "quantitative", "scale": {"domain": [-0.41, 1.1], "nice": false, "zero": false}, "axis": {"title": null, "values": [-0.4, -0.2, 0, 0.2, 0.4, 0.6, 0.8, 1.0], "format": ".1f", "labelOverlap": false, "labelBound": false, "labelExpr": "replace(datum.label, '−', '-')"}}
          },
          "layer": [
            {
              "data": {"name": "d6"},
              "mark": {"type": "line", "interpolate": "monotone", "clip": true},
              "encoding": {
                "x": {"field": "t", "type": "quantitative"},
                "y": {"field": "v", "type": "quantitative"},
                "color": {"field": "s", "type": "nominal", "scale": {"domain": ["ru", "rl", "gu", "gl", "k", "r", "g"], "range": ["#ff0000", "#ff0000", "#00cc00", "#00cc00", "#000000", "#ff0000", "#00cc00"]}, "legend": null},
                "strokeDash": {"field": "s", "type": "nominal", "scale": {"domain": ["ru", "rl", "gu", "gl", "k", "r", "g"], "range": [[4, 3], [4, 3], [4, 3], [4, 3], [1, 0], [1, 0], [1, 0]]}, "legend": null},
                "strokeWidth": {"field": "s", "type": "ordinal", "scale": {"domain": ["ru", "rl", "gu", "gl", "k", "r", "g"], "range": [1.3, 1.3, 1.3, 1.3, 2.5, 2.5, 2.5]}, "legend": null}
              }
            },
            {
              "data": {"values": [{}]},
              "mark": {"type": "text", "align": "right"},
              "encoding": {"x": {"datum": 91}, "y": {"datum": 0.86}, "text": {"value": "μ₅(tᵢ)"}}
            }
          ]
        }
      ]
    }
  ]
}
